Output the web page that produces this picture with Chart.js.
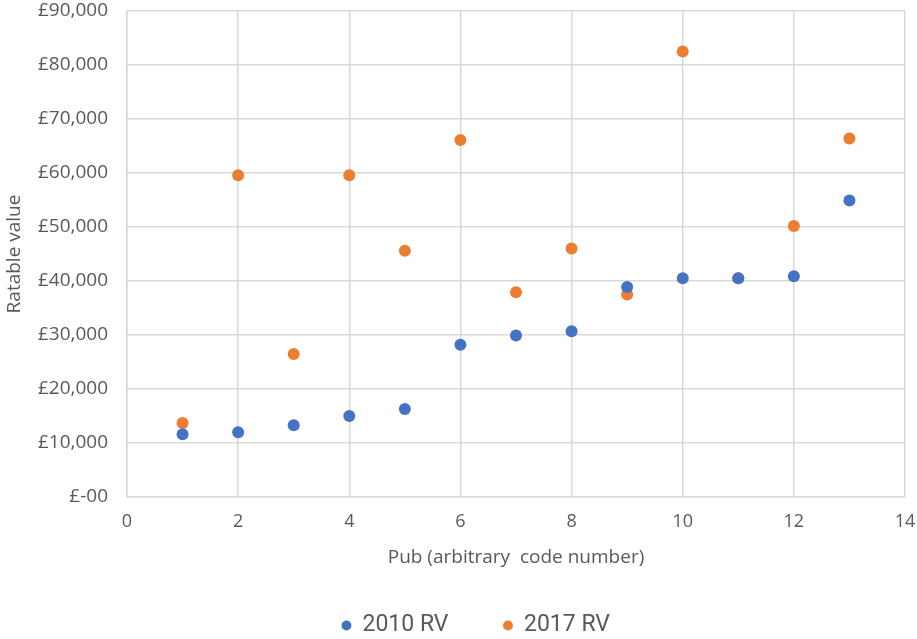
<!DOCTYPE html>
<html>
<head>
<meta charset="utf-8">
<script src="https://cdn.jsdelivr.net/npm/chart.js@4/dist/chart.umd.min.js"></script>
<style>
  html, body { margin: 0; padding: 0; background: #ffffff; }
  #wrap { width: 917px; height: 639px; position: relative; }
</style>
</head>
<body>
<div id="wrap"><canvas id="rv"></canvas></div>
<script>
// Pub code numbers and rateable values (GBP)
const pubCodes = [1, 2, 3, 4, 5, 6, 7, 8, 9, 10, 11, 12, 13];
const rv2010 = [11600, 12000, 13300, 15000, 16300, 28200, 29900, 30700, 38900, 40500, 40500, 40900, 54900];
const rv2017 = [13700, 59600, 26500, 59600, 45600, 66100, 37900, 46000, 37500, 82500, 40500, 50200, 66400];
const seriesNames = ['2010 RV', '2017 RV'];
const xTitle = 'Pub (arbitrary  code number)';
const yTitle = 'Ratable value';

const textGrey = '#595959';
const gridGrey = '#d9d9d9';
const mainFont = "'Open Sans', sans-serif";
const legendFont = "Roboto, sans-serif";

function toPoints(ys) {
  return pubCodes.map((x, i) => ({ x: x, y: ys[i] }));
}

function poundLabel(v) {
  if (v === 0) return '£-00';
  return '£' + v.toLocaleString('en-GB');
}

// Keep the legend block a fixed height so its row sits near the bottom edge,
// and nudge the row slightly right of centre
const legendPlacePlugin = {
  id: 'legendPlace',
  beforeLayout(chart) {
    const lg = chart.legend;
    if (lg && !lg._fixedFit) {
      const orig = lg.fit;
      lg.fit = function () {
        orig.call(this);
        this.height = 80;
      };
      lg._fixedFit = true;
    }
  },
  afterLayout(chart) {
    if (chart.legend) chart.legend.left += 47;
  }
};

function build() {
  new Chart(document.getElementById('rv'), {
    type: 'scatter',
    data: {
      datasets: [
        {
          label: seriesNames[0],
          data: toPoints(rv2010),
          backgroundColor: '#4472C4',
          borderColor: '#4472C4',
          pointRadius: 6,
          pointHoverRadius: 6,
          borderWidth: 0
        },
        {
          label: seriesNames[1],
          data: toPoints(rv2017),
          backgroundColor: '#ED7D31',
          borderColor: '#ED7D31',
          pointRadius: 6,
          pointHoverRadius: 6,
          borderWidth: 0
        }
      ]
    },
    plugins: [legendPlacePlugin],
    options: {
      responsive: true,
      maintainAspectRatio: false,
      animation: false,
      layout: { padding: { top: 11, right: 12, bottom: 0, left: 0 } },
      plugins: {
        tooltip: { enabled: false },
        legend: {
          position: 'bottom',
          labels: {
            usePointStyle: true,
            pointStyle: 'circle',
            boxWidth: 9,
            boxHeight: 7,
            padding: 55,
            color: textGrey,
            font: { family: legendFont, size: 23 }
          }
        }
      },
      scales: {
        x: {
          type: 'linear',
          min: 0,
          max: 14,
          ticks: {
            stepSize: 2,
            color: textGrey,
            padding: 14,
            font: { family: mainFont, size: 18 }
          },
          grid: { color: gridGrey, lineWidth: 1.5, drawTicks: false },
          border: { color: gridGrey, width: 1.5 },
          title: {
            display: true,
            text: xTitle,
            color: textGrey,
            padding: { top: 0, bottom: -9.5 },
            font: { family: mainFont, size: 19 }
          },
          afterFit: (scale) => {
            scale.height = 62;
            scale.paddingLeft = 0;
            scale.paddingRight = 0;
          }
        },
        y: {
          type: 'linear',
          min: 0,
          max: 90000,
          ticks: {
            stepSize: 10000,
            color: textGrey,
            padding: 19,
            callback: (v) => poundLabel(v),
            font: { family: mainFont, size: 19 }
          },
          grid: { color: gridGrey, lineWidth: 1.5, drawTicks: false },
          border: { color: gridGrey, width: 1.5 },
          title: {
            display: true,
            text: yTitle,
            color: textGrey,
            padding: { top: 3, bottom: 0 },
            font: { family: mainFont, size: 19 }
          },
          afterFit: (scale) => {
            scale.width = 127;
            scale.paddingTop = 0;
            scale.paddingBottom = 0;
          }
        }
      }
    }
  });
}

Promise.all([
  document.fonts.load("19px 'Open Sans'"),
  document.fonts.load("23px Roboto")
]).then(build, build);
</script>
</body>
</html>
